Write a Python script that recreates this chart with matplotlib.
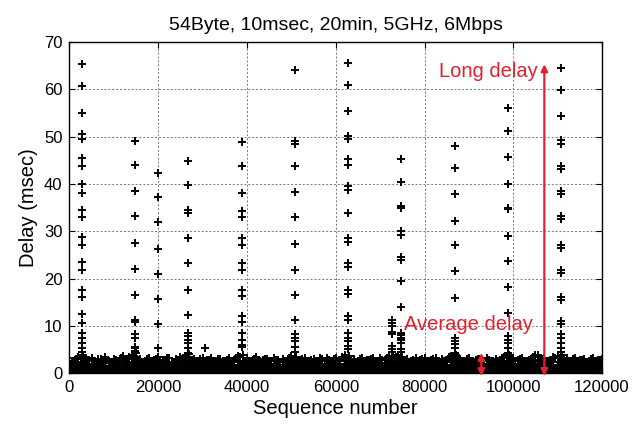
import matplotlib
matplotlib.use("Agg")
import matplotlib.pyplot as plt
import numpy as np

plt.rcParams['font.family'] = ['Liberation Sans', 'DejaVu Sans']

title = "54Byte, 10msec, 20min, 5GHz, 6Mbps"
xlabel = "Sequence number"
ylabel = "Delay (msec)"
xticks = [0, 20000, 40000, 60000, 80000, 100000, 120000]
yticks = [0, 10, 20, 30, 40, 50, 60, 70]

# Burst columns: sequence number and delays (msec)
col_x = [2800, 14800, 20000, 26800, 38800, 50800, 62800, 72700, 74800, 86800, 98800, 110800]
col_delays = [
    [65.3, 60.7, 54.9, 50.5, 49.4, 45.5, 43.9, 39.9, 38.1, 34.4, 33.0, 28.8, 27.2, 23.5, 21.8,
     17.7, 16.1, 12.5, 10.6, 8.5, 7.5, 6.4, 5.3, 4.6],
    [49.0, 44.1, 38.5, 33.2, 27.5, 22.0, 16.6, 11.2, 10.8, 8.2, 7.5, 5.6, 5.3, 4.8, 4.3],
    [42.3, 37.2, 31.9, 26.3, 21.0, 15.6, 10.5, 5.3],
    [44.8, 39.7, 34.4, 33.9, 28.6, 23.3, 17.7, 12.4, 8.5, 7.8, 7.0, 6.3, 5.3, 4.3],
    [48.8, 43.8, 38.0, 34.2, 33.0, 28.6, 27.2, 23.3, 21.9, 17.7, 16.4, 12.1, 10.9, 8.5, 7.0,
     6.0, 5.6],
    [64.0, 49.0, 48.5, 43.8, 38.3, 33.0, 27.3, 21.9, 16.5, 11.3, 8.2, 7.5, 6.8, 5.6, 4.6],
    [65.5, 60.9, 55.4, 50.1, 49.5, 45.2, 44.0, 39.5, 38.7, 33.9, 28.6, 27.8, 23.3, 22.5, 17.7,
     16.8, 12.1, 11.3, 8.5, 7.5, 6.8, 5.8, 5.1],
    [11.3, 10.6, 9.9, 8.8, 8.2, 5.8, 5.1, 4.4],
    [45.2, 40.5, 35.3, 34.9, 30.0, 29.3, 24.6, 23.9, 19.5, 14.0, 8.5, 8.0, 7.5, 7.0, 6.4, 5.2, 4.5],
    [48.1, 43.4, 37.8, 32.1, 27.1, 21.6, 15.9, 7.5, 6.8, 6.1, 5.4, 4.3],
    [56.0, 51.2, 45.7, 40.1, 35.0, 34.8, 29.1, 23.7, 18.2, 12.7, 7.8, 7.0, 6.3, 5.3, 4.3],
    [64.5, 59.8, 54.3, 49.2, 48.5, 43.9, 43.2, 38.5, 37.8, 33.2, 32.5, 27.2, 26.5, 21.8, 21.1,
     16.1, 15.4, 11.1, 10.5, 8.2, 7.4, 6.5, 5.3, 4.5],
]

# Isolated points
iso_x = [30500, 105500]
iso_y = [5.3, 3.9]

# Dense low-delay band (sampled every 1000 sequence numbers)
band_x = list(range(0, 121000, 1000))
band_hi = [
    3.2, 2.6, 3.5, 3.8, 2.9, 3.3, 2.4, 3.0, 3.4, 2.7,
    3.1, 2.5, 3.6, 3.0, 3.9, 4.2, 3.1, 2.6, 3.3, 2.8,
    3.5, 2.9, 3.2, 2.4, 3.0, 3.4, 3.7, 4.0, 3.1, 2.6,
    3.3, 2.8, 3.2, 2.5, 3.1, 2.7, 3.3, 2.9, 3.6, 3.9,
    3.2, 2.7, 3.4, 2.6, 3.0, 2.5, 3.2, 2.8, 3.1, 2.6,
    3.7, 3.5, 2.9, 3.3, 2.7, 3.1, 2.4, 3.0, 3.3, 2.7,
    3.2, 2.9, 3.8, 3.6, 3.0, 2.6, 3.3, 2.8, 3.1, 2.5,
    3.2, 2.9, 3.6, 3.4, 3.8, 3.5, 3.0, 2.6, 3.2, 2.8,
    3.3, 2.7, 3.0, 2.5, 3.1, 2.9, 3.7, 3.9, 3.1, 2.7,
    3.2, 2.6, 3.0, 2.8, 3.3, 2.6, 3.1, 2.9, 3.5, 3.8,
    3.2, 2.8, 3.3, 2.7, 3.1, 3.9, 2.9, 3.2, 2.6, 3.4,
    3.6, 3.8, 3.2, 2.7, 3.3, 2.9, 3.1, 2.6, 3.3, 2.8,
    3.0,
]
band_mid = [
    1.9, 2.1, 1.7, 2.2, 2.0, 1.8, 2.3, 1.9, 2.1, 1.6,
    2.0, 2.2, 1.8, 2.1, 2.4, 2.6, 2.0, 1.7, 2.2, 1.9,
    2.1, 1.8, 2.0, 2.3, 1.7, 2.1, 2.5, 2.7, 2.0, 1.8,
    2.2, 1.9, 2.0, 1.7, 2.2, 1.9, 2.1, 1.8, 2.3, 2.6,
    2.0, 1.8, 2.1, 1.9, 2.2, 1.7, 2.0, 2.3, 1.8, 2.1,
    2.5, 2.4, 1.9, 2.1, 1.7, 2.2, 1.9, 2.0, 1.8, 2.2,
    2.0, 1.9, 2.6, 2.4, 2.0, 1.8, 2.1, 1.9, 2.2, 1.7,
    2.0, 2.2, 2.4, 2.1, 2.6, 2.3, 1.9, 2.1, 1.8, 2.2,
    2.0, 1.7, 2.1, 1.9, 2.2, 1.8, 2.4, 2.6, 2.0, 1.8,
    2.1, 1.9, 2.2, 1.7, 2.0, 2.3, 1.9, 2.1, 2.4, 2.6,
    2.0, 1.8, 2.2, 1.9, 2.1, 2.5, 1.8, 2.0, 2.2, 1.7,
    2.4, 2.6, 2.1, 1.9, 2.2, 1.8, 2.0, 2.3, 1.9, 2.1,
    2.0,
]
# Intermediate band points (between the 1000-step samples)
band_x2 = list(range(500, 120000, 1000))
band_up = [
    2.7, 3.0, 2.4, 3.3, 2.8, 2.5, 3.1, 2.6, 2.9, 2.3,
    2.8, 3.2, 2.5, 3.4, 3.6, 2.9, 2.4, 3.0, 2.6, 3.1,
    2.5, 2.8, 3.2, 2.4, 2.9, 3.3, 3.5, 2.8, 2.5, 3.1,
    2.6, 2.9, 2.3, 3.0, 2.5, 2.8, 2.4, 3.2, 3.4, 2.7,
    2.5, 3.0, 2.4, 2.8, 3.1, 2.6, 2.9, 2.3, 2.7, 3.3,
    3.1, 2.6, 3.0, 2.4, 2.9, 2.7, 3.2, 2.5, 2.8, 3.0,
    2.6, 3.4, 3.2, 2.7, 2.4, 3.0, 2.6, 2.9, 3.2, 2.5,
    2.8, 3.3, 3.1, 3.5, 3.0, 2.7, 2.4, 2.9, 2.6, 3.1,
    2.5, 2.8, 3.2, 2.4, 2.7, 3.4, 3.3, 2.8, 2.5, 3.0,
    2.4, 2.8, 3.1, 2.6, 2.9, 2.5, 2.7, 3.2, 3.4, 2.9,
    2.6, 3.0, 2.5, 2.8, 3.4, 2.6, 3.0, 2.4, 2.9, 3.3,
    3.2, 2.8, 2.5, 3.0, 2.7, 2.9, 2.4, 3.1, 2.6, 2.8,
]

red = '#e3202b'

fig = plt.figure(figsize=(6.41, 4.30), dpi=100)
ax = fig.add_axes([0.1084, 0.1319, 0.9392 - 0.1084, 0.9023 - 0.1319])

mk = dict(linestyle='none', marker='+', color='black', markersize=6, markeredgewidth=1.4)

# dense band
ax.fill_between(band_x, 0, band_mid, color='black', linewidth=0, zorder=2)
ax.plot(band_x, band_mid, zorder=3, **mk)
ax.plot(band_x2, band_up, zorder=3, **mk)
ax.plot(band_x, band_hi, zorder=3, **mk)

for cx, ds in zip(col_x, col_delays):
    ax.plot([cx] * len(ds), ds, zorder=3, **mk)
ax.plot(iso_x, iso_y, zorder=3, **mk)

ax.set_xlim(0, 120000)
ax.set_ylim(0, 70)
ax.set_xticks(xticks)
ax.set_yticks(yticks)
ax.set_xticklabels([str(t) for t in xticks])
ax.tick_params(direction='in', length=4, width=0.8, labelsize=12, top=True, right=True, pad=5)
ax.grid(True, color='#777777', linestyle=(0, (2, 2)), linewidth=0.7)
ax.set_axisbelow(True)
for s in ax.spines.values():
    s.set_linewidth(1.0)
    s.set_zorder(5)

ax.set_title(title, fontsize=14, pad=9)
ax.set_xlabel(xlabel, fontsize=14.5, labelpad=3)
ax.set_ylabel(ylabel, fontsize=14.5, labelpad=4)

# annotations
ap = dict(arrowstyle='<|-|>', color=red, lw=1.6, mutation_scale=10, shrinkA=0, shrinkB=0)
ax.annotate('', xy=(107000, 65.3), xytext=(107000, -0.6), arrowprops=ap, annotation_clip=False, zorder=6)
ax.annotate('', xy=(92800, 4.3), xytext=(92800, -0.6), arrowprops=ap, annotation_clip=False, zorder=6)
ax.text(105500, 63.8, 'Long delay', color=red, fontsize=14.5, ha='right', va='center', zorder=6)
ax.text(104500, 10.4, 'Average delay', color=red, fontsize=14.5, ha='right', va='center', zorder=6)

fig.savefig('out.png', dpi=100)
